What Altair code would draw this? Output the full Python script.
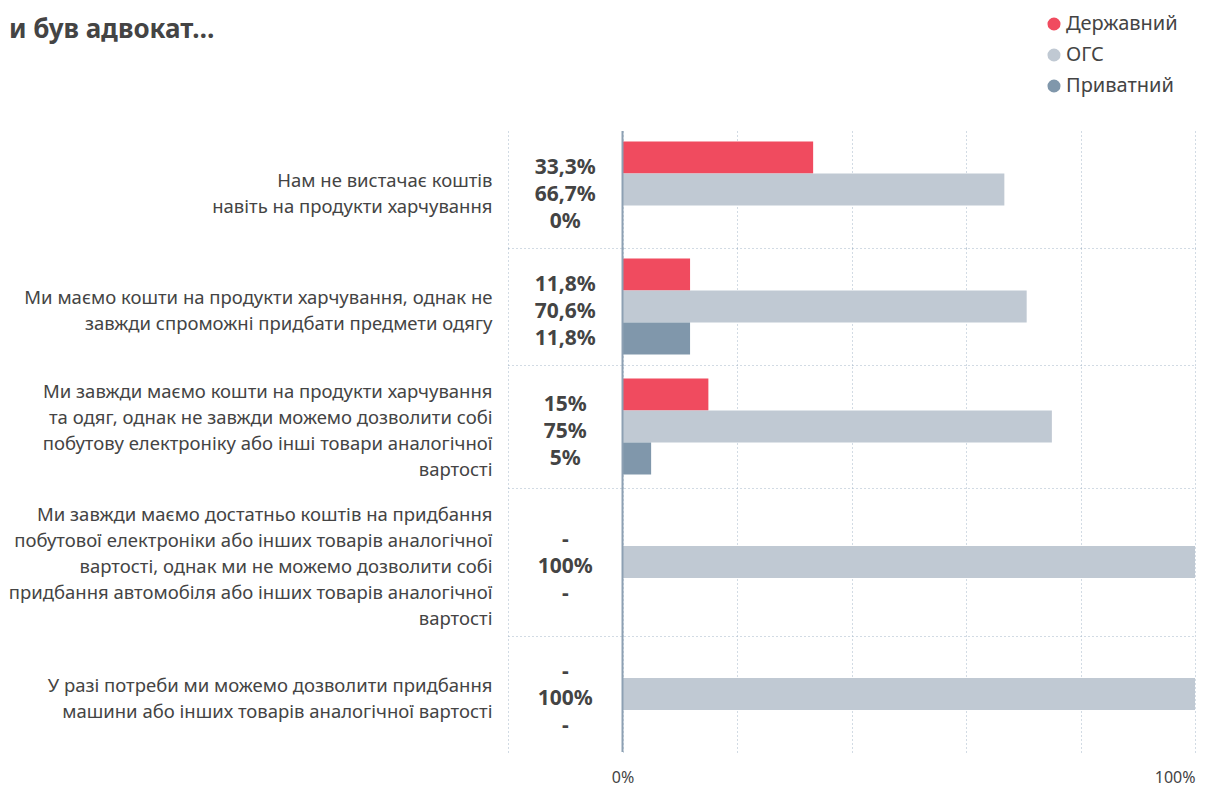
import altair as alt
import pandas as pd

# ---- data ----
categories = [
    "Нам не вистачає коштів|навіть на продукти харчування",
    "Ми маємо кошти на продукти харчування, однак не|завжди спроможні придбати предмети одягу",
    "Ми завжди маємо кошти на продукти харчування|та одяг, однак не завжди можемо дозволити собі|побутову електроніку або інші товари аналогічної|вартості",
    "Ми завжди маємо достатньо коштів на придбання|побутової електроніки або інших товарів аналогічної|вартості, однак ми не можемо дозволити собі|придбання автомобіля або інших товарів аналогічної|вартості",
    "У разі потреби ми можемо дозволити придбання|машини або інших товарів аналогічної вартості",
]
series = ["Державний", "ОГС", "Приватний"]
derzhavnyi = [33.3, 11.8, 15, None, None]
ogs = [66.7, 70.6, 75, 100, 100]
pryvatnyi = [0, 11.8, 5, None, None]
colors = ["#f04b5f", "#c0c9d3", "#8097ab"]
x_ticks = [-20, 0, 20, 40, 60, 80, 100]

# ---- layout ----
panel_heights = [117, 117, 123, 148, 116]
panel_width = 687
BAR = 32
TXT = "#444444"
GRID = "#a4b6c9"
FONT = "Noto Sans"
CAT_LH = 26
VAL_LH = 27


def fmt(v):
    if v is None:
        return "-"
    s = f"{v:g}".replace(".", ",")
    return s + "%"


panels = []
n = len(categories)
for i, cat in enumerate(categories):
    vals = [derzhavnyi[i], ogs[i], pryvatnyi[i]]
    lines = "|".join(fmt(v) for v in vals)
    df = pd.DataFrame({"series": series, "value": vals, "lines": [lines] * 3})
    h = panel_heights[i]
    po = (h / BAR - 3) / 2
    last = i == n - 1
    cat_lines = cat.split("|")

    if last:
        xaxis = alt.Axis(
            values=x_ticks, grid=True, gridDash=[1, 3], gridColor=GRID, gridWidth=1,
            domain=False, ticks=False, labels=True,
            labelExpr="datum.value == 0 ? '0%' : datum.value == 100 ? '100%' : ''",
            labelFontSize=16, labelColor=TXT, labelPadding=17, title=None,
        )
    else:
        xaxis = alt.Axis(
            values=x_ticks, grid=True, gridDash=[1, 3], gridColor=GRID, gridWidth=1,
            domain=True, domainDash=[1, 3], domainColor=GRID, domainWidth=1,
            ticks=False, labels=False, title=None,
        )

    X = alt.X("value:Q", scale=alt.Scale(domain=[-20, 100], nice=False, zero=False), axis=xaxis)
    Y = alt.Y(
        "series:N",
        scale=alt.Scale(domain=series, paddingInner=0, paddingOuter=po),
        axis=alt.Axis(
            labels=False, ticks=False, domain=False, grid=False,
            title=cat_lines, titleAngle=0, titleAlign="right", titleBaseline="middle",
            titleX=-16, titleY=h / 2 + 4 - (len(cat_lines) - 1) * CAT_LH / 2,
            titleFontSize=18.5, titleFontWeight="normal",
            titleColor=TXT, titleLineHeight=CAT_LH, titleFont=FONT,
        ),
    )

    base = alt.Chart(df)
    bars = base.mark_bar().encode(
        x=X,
        y=Y,
        color=alt.Color(
            "series:N",
            scale=alt.Scale(domain=series, range=colors),
            legend=alt.Legend(
                title=None, orient="none", legendX=536, legendY=-117,
                symbolType="circle", symbolSize=170, symbolStrokeWidth=0,
                labelFontSize=20, labelColor=TXT, labelFont=FONT, rowPadding=11,
                labelOffset=2,
            ),
        ),
    )
    zero = base.transform_filter("datum.series == 'ОГС'").mark_rule(
        color="#8da0b3", strokeWidth=2
    ).encode(x=alt.datum(0))
    labels = base.transform_filter("datum.series == 'ОГС'").transform_calculate(
        t="split(datum.lines, '|')"
    ).mark_text(
        fontSize=21, fontWeight="bold", color=TXT, lineHeight=VAL_LH,
        baseline="middle", align="center", font=FONT, dy=-VAL_LH + 5,
    ).encode(x=alt.datum(-10), y=Y, text=alt.Text("t:N"))

    panels.append(
        alt.layer(bars, zero, labels).properties(width=panel_width, height=h)
    )

chart = alt.vconcat(*panels, spacing=0, bounds="flush").properties(
    title=alt.TitleParams(
        text="и був адвокат…", anchor="start", frame="group", dx=-499, offset=-50,
        baseline="alphabetic", fontSize=26, fontWeight="bold", color=TXT, font=FONT,
    ),
    padding={"left": 0, "top": 6, "right": 2, "bottom": 2},
).configure(font=FONT).configure_view(stroke=None)

chart.save("out.html", embed_options={"renderer": "svg", "actions": False})
